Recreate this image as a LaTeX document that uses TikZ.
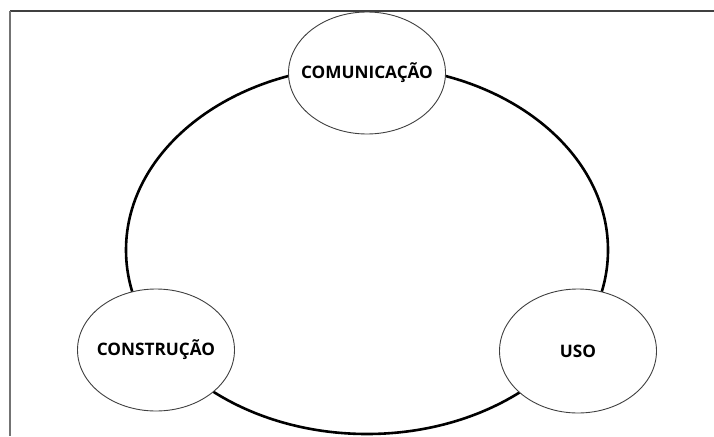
\documentclass[tikz,border=0pt]{standalone}
\usepackage{fontspec}
\setmainfont{Open Sans}
\usetikzlibrary{shapes.geometric}

\newcommand{\phasetext}[1]{\makebox[0pt]{#1}}

\begin{document}
\begin{tikzpicture}[x=1pt,y=-1pt,
    phase/.style={ellipse,draw=black!75,line width=0.9pt,fill=white,inner sep=0pt,
        minimum width=157pt,minimum height=122pt,font=\fontsize{17.2}{20}\selectfont\bfseries,text=black}]
    \useasboundingbox (0,0) rectangle (714,436);

    \draw[line width=1.6pt,black!75] (714,11) -- (10,11);
    \draw[line width=1.6pt,black!55] (10,11) -- (10,436);

    \draw[line width=2.6pt] (367,250) ellipse[x radius=241,y radius=184];

    \node[phase] (comunicacao) at (367,73) {\phasetext{COMUNICAÇÃO}};
    \node[phase] (construcao) at (156,350) {\phasetext{CONSTRUÇÃO}};
    \node[phase,minimum height=124pt] (uso) at (578,351) {\phasetext{USO}};

\end{tikzpicture}
\end{document}
